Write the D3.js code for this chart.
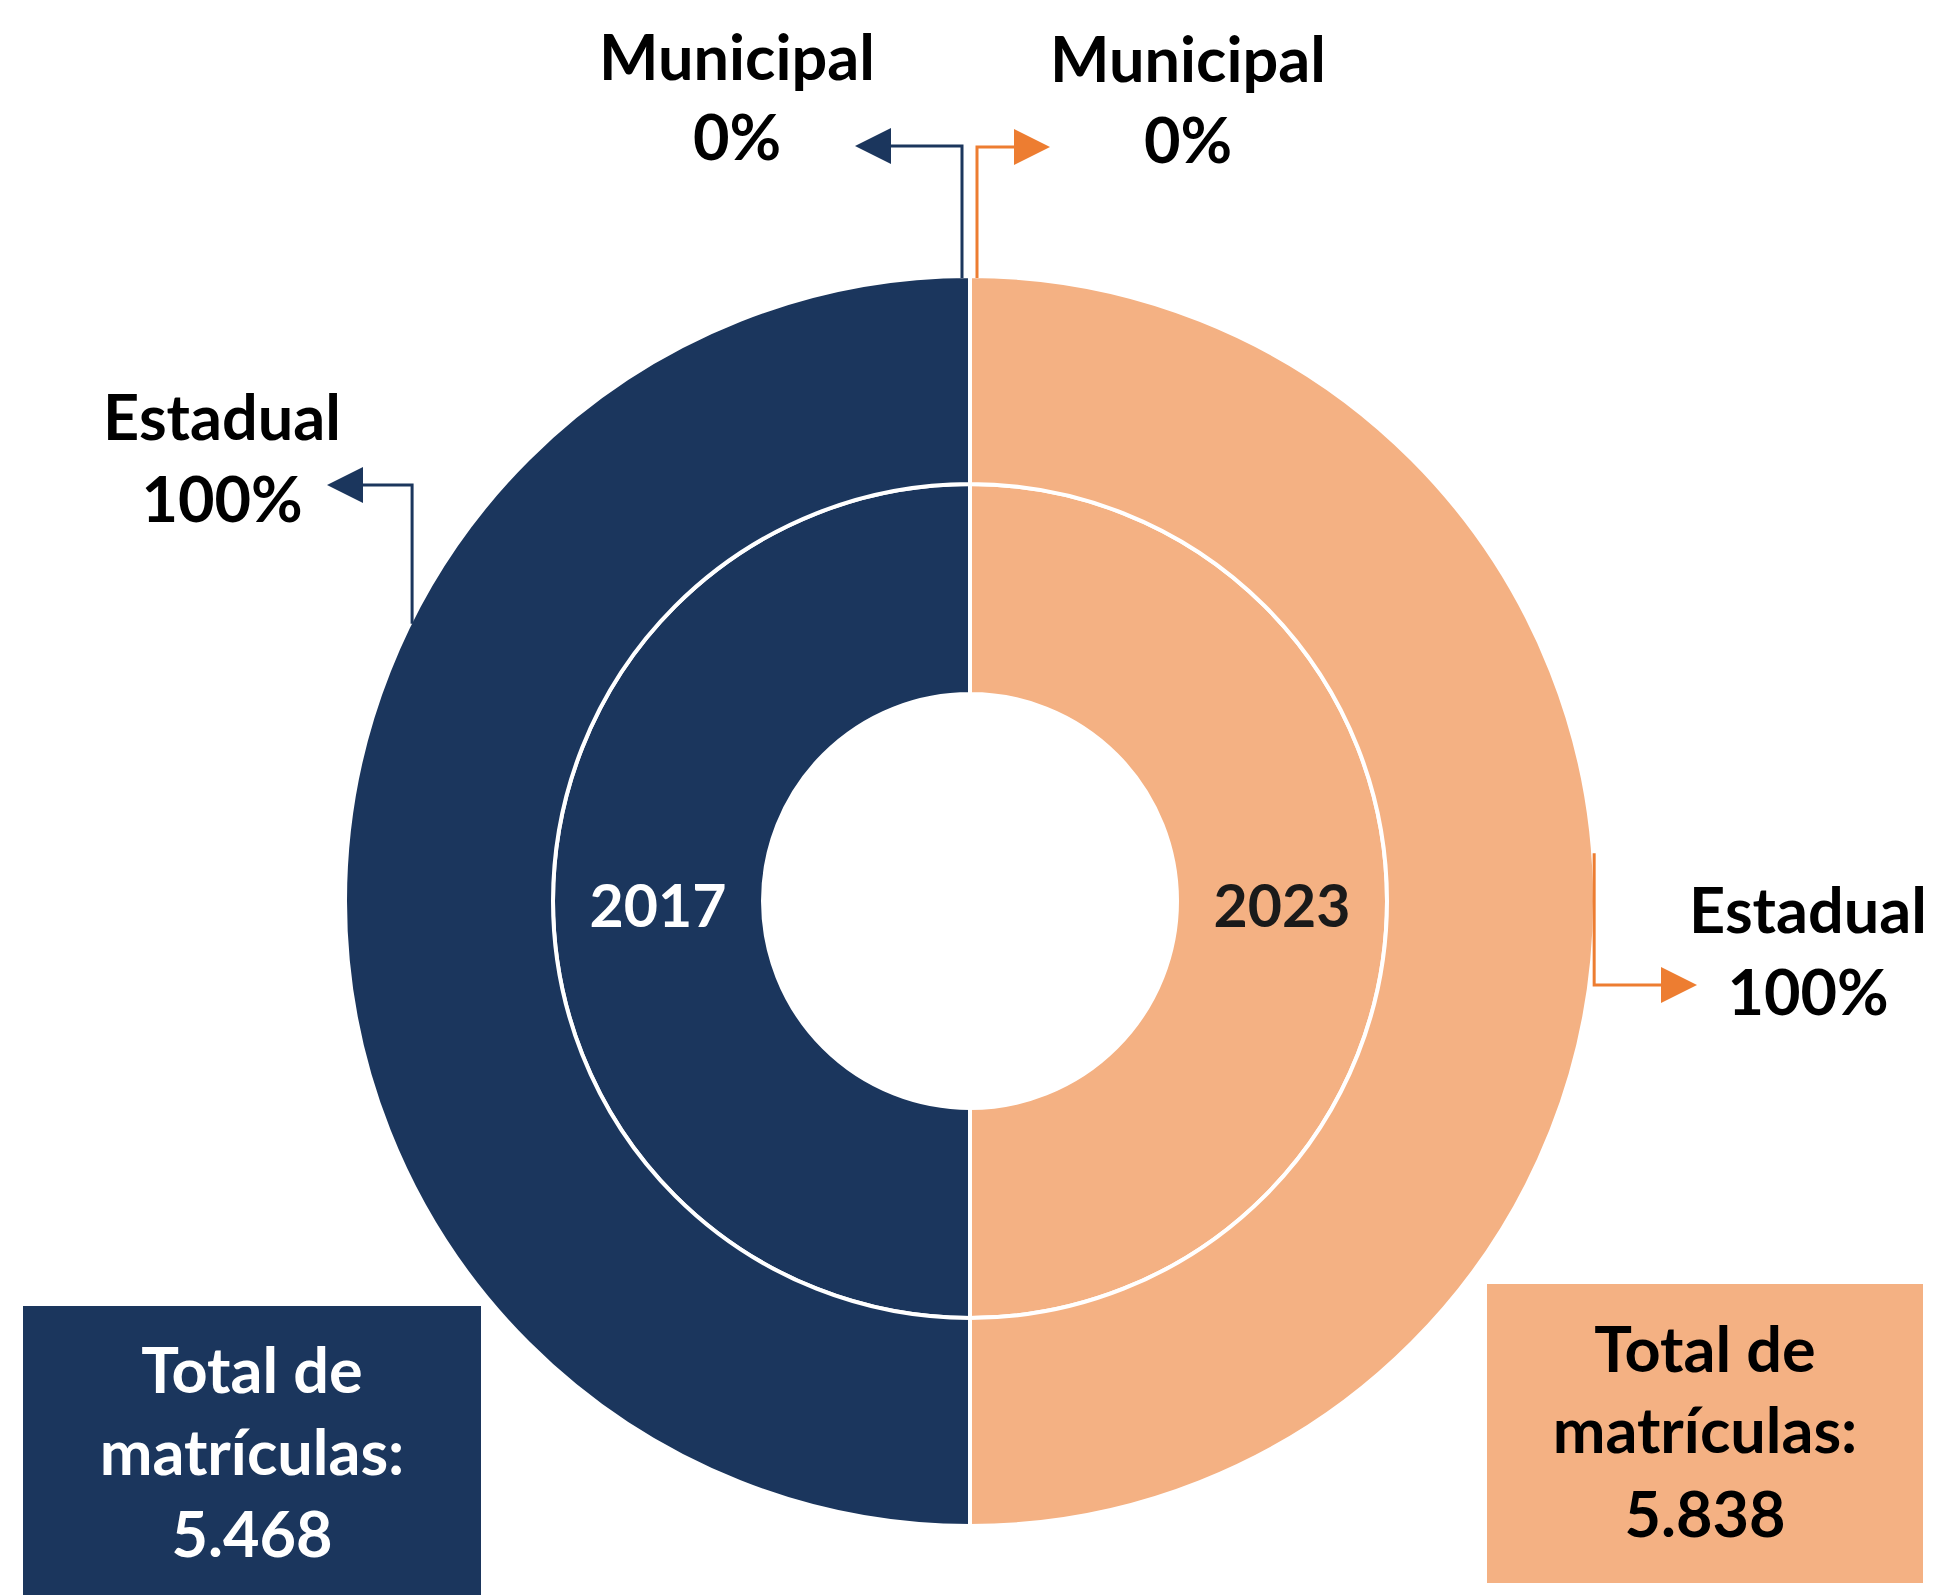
<!DOCTYPE html>
<html>
<head>
<meta charset="utf-8">
<script src="https://cdn.jsdelivr.net/npm/d3@7"></script>
<style>
  body { margin: 0; background: #fff; }
  text { font-family: Lato, "Open Sans", sans-serif; font-weight: 700; }
</style>
</head>
<body>
<div id="chart"></div>
<script>
// Data
var years = ["2017", "2023"];
var categories = ["Estadual", "Municipal"];
var estadual = [5468, 5838];   // matrículas na rede estadual
var municipal = [0, 0];        // matrículas na rede municipal
var totals = [5468, 5838];

var svgWidth = 1935;
var svgHeight = 1595;

var navy = "#1b365d";
var peach = "#f4b183";
var orange = "#ed7d31";

var cx = 970, cy = 901;
var rings = [[207, 417], [417, 625]];

var svg = d3.select("#chart")
    .append("svg")
    .attr("width", svgWidth)
    .attr("height", svgHeight);

var chartGroup = svg.append("g")
    .attr("transform", `translate(${cx}, ${cy})`);

var fmt = d3.formatLocale({ decimal: ",", thousands: ".", grouping: [3], currency: ["R$", ""] }).format(",");
var pct = d3.format(".0%");

// each year takes one half of the doughnut
var halves = [
    { fill: navy, line: navy, text: "#fff", start: Math.PI, end: 2 * Math.PI, order: ["Estadual", "Municipal"] },
    { fill: peach, line: orange, text: "#1a1a1a", start: 0, end: Math.PI, order: ["Municipal", "Estadual"] }
];

// where each leader line leaves the doughnut and where its label sits
var leaders = {
    "2017": {
        Municipal: { angle: null, dx: -8, elbowY: 146, tipX: 855, labelX: 737, nameY: 80, pctY: 160 },
        Estadual: { angle: 2 * Math.PI - 1.1096, dx: 0, elbowY: 485, tipX: 327, labelX: 222, nameY: 440, pctY: 522 }
    },
    "2023": {
        Municipal: { angle: null, dx: 7, elbowY: 147, tipX: 1050, labelX: 1188, nameY: 82, pctY: 163 },
        Estadual: { angle: 1.494, dx: 3, elbowY: 985, tipX: 1697, labelX: 1808, nameY: 933, pctY: 1015 }
    }
};

years.forEach(function(year, i) {
    var h = halves[i];
    var values = { Estadual: estadual[i], Municipal: municipal[i] };
    var slices = h.order.map(function(c) { return { category: c, value: values[c] }; });

    var pie = d3.pie()
        .sort(null)
        .value(d => d.value)
        .startAngle(h.start)
        .endAngle(h.end);
    var arcs = pie(slices);

    rings.forEach(function(r) {
        var arc = d3.arc().innerRadius(r[0]).outerRadius(r[1]);
        chartGroup.append("g")
            .selectAll("path")
            .data(arcs)
            .enter()
            .append("path")
            .attr("d", arc)
            .attr("fill", h.fill)
            .attr("stroke", "#fff")
            .attr("stroke-width", 4);
    });

    // year label in the middle of the inner ring
    var inner = d3.arc().innerRadius(rings[0][0]).outerRadius(rings[0][1]);
    var c = inner.centroid({ startAngle: h.start, endAngle: h.end });
    chartGroup.append("text")
        .attr("x", c[0])
        .attr("y", c[1])
        .attr("dy", "0.44em")
        .attr("text-anchor", "middle")
        .attr("fill", h.text)
        .style("font-size", "59px")
        .text(year);

    // leader lines with arrow heads + labels
    var total = estadual[i] + municipal[i];
    arcs.forEach(function(a) {
        var L = leaders[year][a.data.category];
        var ang = L.angle !== null ? L.angle : (a.startAngle + a.endAngle) / 2;
        var R = rings[1][1] - 2;
        var x0 = cx + R * Math.sin(ang) + L.dx;
        var y0 = cy - R * Math.cos(ang);
        var dir = L.tipX < x0 ? -1 : 1;
        var headLen = 36, headHalf = 18;
        var baseX = L.tipX - dir * headLen;

        svg.append("path")
            .attr("d", `M${x0},${y0}V${L.elbowY}H${baseX}`)
            .attr("fill", "none")
            .attr("stroke", h.line)
            .attr("stroke-width", 3);
        svg.append("path")
            .attr("d", `M${L.tipX},${L.elbowY}L${baseX},${L.elbowY - headHalf}L${baseX},${L.elbowY + headHalf}Z`)
            .attr("fill", h.line);

        svg.append("text")
            .attr("x", L.labelX)
            .attr("y", L.nameY)
            .attr("text-anchor", "middle")
            .attr("fill", "#000")
            .style("font-size", "63px")
            .text(a.data.category);
        svg.append("text")
            .attr("x", L.labelX)
            .attr("y", L.pctY)
            .attr("text-anchor", "middle")
            .attr("fill", "#000")
            .style("font-size", "63px")
            .text(pct(a.data.value / total));
    });
});

// total boxes
var boxes = [
    { x: 23, y: 1306, w: 458, h: 300, lines: [1393, 1475, 1557] },
    { x: 1487, y: 1284, w: 436, h: 299, lines: [1372, 1453, 1537] }
];
boxes.forEach(function(b, i) {
    var h = halves[i];
    svg.append("rect")
        .attr("x", b.x)
        .attr("y", b.y)
        .attr("width", b.w)
        .attr("height", b.h)
        .attr("fill", h.fill);
    var txt = ["Total de", "matrículas:", fmt(totals[i])];
    txt.forEach(function(t, k) {
        svg.append("text")
            .attr("x", b.x + b.w / 2)
            .attr("y", b.lines[k])
            .attr("text-anchor", "middle")
            .attr("fill", i === 0 ? "#fff" : "#000")
            .style("font-size", "63px")
            .text(t);
    });
});
</script>
</body>
</html>
